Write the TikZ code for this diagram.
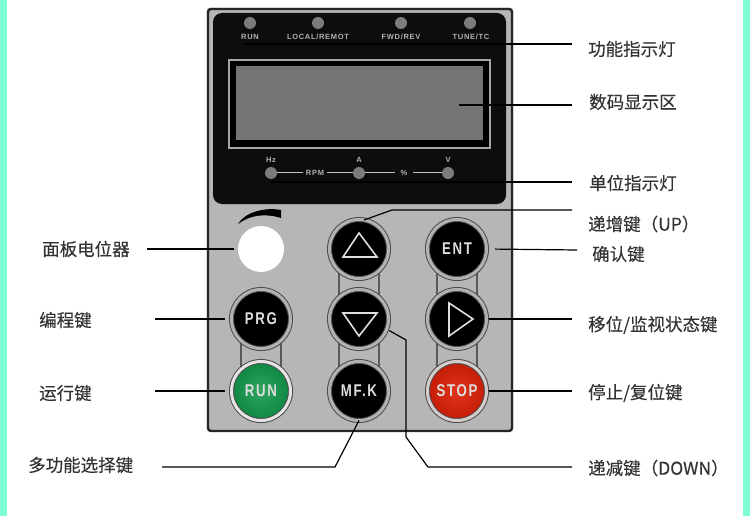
\documentclass[tikz,border=0pt]{standalone}
\usepackage{fontspec}
\setmainfont{Liberation Sans}
\newfontfamily\cjk[FakeBold=0.3]{Noto Sans CJK SC}
\newfontfamily\keyfont[LetterSpace=10,FakeStretch=0.78]{Liberation Sans}
\newfontfamily\lampfont[LetterSpace=9]{Liberation Sans}
\definecolor{stripcol}{HTML}{7FFFD4}
\definecolor{panelcol}{HTML}{B6B6B6}
\definecolor{lcdcol}{HTML}{747474}
\definecolor{ledcol}{HTML}{7C7C7C}
\definecolor{keytext}{HTML}{DEDEDE}
\definecolor{runhi}{HTML}{2EA55F}
\definecolor{runlo}{HTML}{0E8743}
\definecolor{stophi}{HTML}{E0341A}
\definecolor{stoplo}{HTML}{C41C08}
\tikzset{
  lbl/.style={anchor=west, inner sep=0pt, text=black!80, font=\cjk\fontsize{17.5}{18}\selectfont},
  ptr/.style={black, line width=1.2pt},
  led/.style={circle, fill=ledcol, inner sep=0pt, minimum size=12pt},
  tiny/.style={inner sep=0pt, text=black!30, font=\lampfont\bfseries\fontsize{7.5}{8}\selectfont},
  wire/.style={black!25, line width=1pt},
  keybtn/.style={circle, inner sep=0pt, outer sep=0pt, minimum size=59pt, fill=black,
    draw=black!70, double=#1, double distance=3pt, line width=1pt,
    text=keytext, font=\keyfont\bfseries\fontsize{17}{18}\selectfont},
  keybtn/.default={black!30},
  sym/.style={keytext, line width=1.6pt, line join=miter}
}
\begin{document}
\begin{tikzpicture}[x=1pt, y=-1pt]
\useasboundingbox (0,0) rectangle (750,516);
\fill[stripcol] (0,0) rectangle (7,516);
\fill[stripcol] (743,0) rectangle (750,516);
% panel
\draw[panelcol, fill=panelcol, rounded corners=3pt] (207,8) rectangle (513,431);
\draw[black!85, line width=2.4pt, rounded corners=3pt] (208,9) rectangle (512,431);
\fill[black!95, rounded corners=9pt] (213,13) rectangle (506,204);
\draw[black!35, fill=black, line width=1.5pt] (229,60) rectangle (490,148);
\node[fill=lcdcol, inner sep=0pt, minimum width=247pt, minimum height=74pt] (lcd) at (359.5,103.5) {};
% top lamps
\foreach \nm/\cx in {run/250, local/318, fwd/401, tune/470}{
  \node[led] (\nm) at (\cx,23) {};
}
\node[tiny] (runtxt) at (250,37) {RUN};
\node[tiny] (localtxt) at (318,37) {LOCAL/REMOT};
\node[tiny] (fwdtxt) at (401,37) {FWD/REV};
\node[tiny] (tunetxt) at (471,37) {TUNE/TC};
% unit lamps
\node[led] (hz) at (271,173) {};
\node[led] (amp) at (359,173) {};
\node[led] (volt) at (448,173) {};
\node[tiny] (hztxt) at (271,160) {Hz};
\node[tiny] (amptxt) at (359,160) {A};
\node[tiny] (volttxt) at (448,160) {V};
\node[tiny, outer sep=3pt] (rpm) at (315,173) {RPM};
\node[tiny, outer sep=6pt] (pct) at (404,173) {\%};
\draw[wire] (hz) -- (rpm);
\draw[wire] (rpm) -- (amp);
\draw[wire] (amp) -- (pct);
\draw[wire] (pct) -- (volt);
% rails between keys
\foreach \cx/\ya/\yb in {261/319/391, 359/249/391, 457/249/391}{
  \draw[black!65, line width=1.6pt] (\cx-20,\ya) -- (\cx-20,\yb);
  \draw[black!65, line width=1.6pt] (\cx+20,\ya) -- (\cx+20,\yb);
}
% potentiometer
\fill[black] (238,224) .. controls (245,212) and (265,207) .. (281,210) -- (281,218) .. controls (265,213) and (250,215) .. (238,224);
\node[circle, fill=white, inner sep=0pt, minimum size=46pt] (pot) at (261,249) {};
% keys
\node[keybtn] (prgkey) at (261,319) {PRG};
\node[keybtn={black!10}, shade, inner color=runhi, outer color=runlo, fill=none] (runkey) at (261,391) {RUN};
\node[keybtn] (upkey) at (359,249) {};
\node[keybtn] (downkey) at (359,319) {};
\node[keybtn] (mfkey) at (359,391) {MF.K};
\node[keybtn] (entkey) at (457,249) {ENT};
\node[keybtn] (rightkey) at (457,319) {};
\node[keybtn={red!20!black!20}, shade, inner color=stophi, outer color=stoplo, fill=none] (stopkey) at (457,391) {STOP};
\draw[sym] (359,233) -- (343,257) -- (377,257) -- cycle;
\draw[sym] (343,313) -- (377,313) -- (359,336) -- cycle;
\draw[sym] (449,303) -- (473,319) -- (449,336) -- cycle;
% labels
\node[lbl] (l1) at (588,49) {功能指示灯};
\node[lbl] (l2) at (589,102) {数码显示区};
\node[lbl] (l3) at (589,183) {单位指示灯};
\node[lbl] (l4) at (588,224) {递增键（UP）};
\node[lbl] (l5) at (592,254) {确认键};
\node[lbl] (l6) at (588,325) {移位/监视状态键};
\node[lbl] (l7) at (588,393) {停止/复位键};
\node[lbl] (l8) at (588,468) {递减键（DOWN）};
\node[lbl] (l9) at (42,249) {面板电位器};
\node[lbl] (l10) at (39,320) {编程键};
\node[lbl] (l11) at (39,393) {运行键};
\node[lbl] (l12) at (28,465) {多功能选择键};
% free ends
\coordinate (e1) at (572,44);
\coordinate (e2) at (572,105);
\coordinate (e3) at (572,182);
\coordinate (e4) at (572,210);
\coordinate (e5) at (577,250);
\coordinate (e6) at (572,319);
\coordinate (e7) at (572,391);
\coordinate (e8) at (572,467);
\coordinate (e9) at (147,249);
\coordinate (e10) at (155,319);
\coordinate (e11) at (155,391);
\coordinate (e12) at (162,467);
\coordinate (s1) at (243,44);
\coordinate (s2) at (459,105);
\coordinate (s3) at (271,182);
% pointers
\draw[ptr] (s1) -- (e1);
\draw[ptr] (s2) -- (e2);
\draw[ptr] (s3) -- (e3);
\draw[ptr] (upkey.80) -- (392,210) -- (e4);
\draw[ptr, shorten <=8.5pt] (entkey.east) -- (e5);
\draw[ptr, shorten <=2pt] (rightkey.east) -- (e6);
\draw[ptr, shorten <=2.5pt] (stopkey.east) -- (e7);
\draw[ptr, shorten <=3pt] (downkey.-20) -- (406,340) -- (406,437) -- (428,467) -- (e8);
\draw[ptr, shorten >=4pt] (e9) -- (pot.west);
\draw[ptr, shorten >=6.5pt] (e10) -- (prgkey.west);
\draw[ptr, shorten >=6.5pt] (e11) -- (runkey.west);
\draw[ptr] (mfkey.south) -- (335,467) -- (e12);
\end{tikzpicture}
\end{document}
